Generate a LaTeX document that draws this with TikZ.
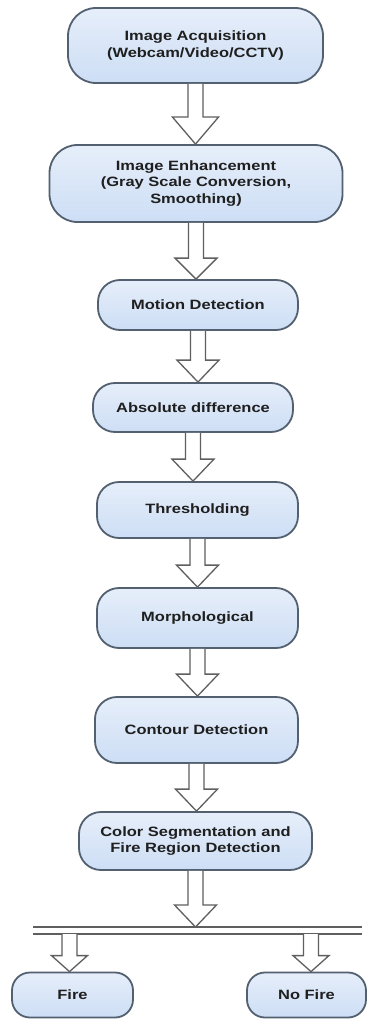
\documentclass[tikz,border=0pt]{standalone}
\usepackage{fontspec}
\setmainfont{Liberation Sans}[FakeStretch=1.22]
\usetikzlibrary{calc}
\definecolor{boxfillA}{RGB}{230,238,250}
\definecolor{boxfillB}{RGB}{205,222,245}
\definecolor{boxline}{RGB}{82,96,112}
\definecolor{arrline}{RGB}{95,95,95}
\tikzset{
  stepbox/.style={draw=boxline, line width=1.8pt, top color=boxfillA, bottom color=boxfillB,
     rounded corners=22pt, align=center, inner sep=2pt,
     font=\fontsize{13.5}{16.7}\selectfont\bfseries, text=black!88},
  hollow/.style={draw=arrline, line width=1.3pt, fill=white, line join=miter},
  barline/.style={draw=arrline, line width=1.3pt}
}
% #1 head half width, #2 head height, #3 start, #4 tip node/coordinate
\newcommand\blockarrow[4]{%
  \draw[hollow] let \p1=(#3), \p2=(#4) in
    (\x1-7.5pt,\y1) -- (\x1-7.5pt,\y2+#2) -- (\x1-#1,\y2+#2) -- (\x1,\y2)
    -- (\x1+#1,\y2+#2) -- (\x1+7.5pt,\y2+#2) -- (\x1+7.5pt,\y1);}
\begin{document}
\begin{tikzpicture}[x=1pt,y=1pt]
\useasboundingbox (0,0) rectangle (367,-1019);
\fill[white] (0,0) rectangle (367,-1019);

\node[stepbox, minimum width=255pt, minimum height=75pt, rounded corners=28pt] (acq) at (195.5,-45.5)
  {Image Acquisition\\(Webcam/Video/CCTV)};
\node[stepbox, minimum width=293pt, minimum height=77pt, rounded corners=28pt] (enh) at (196,-183.5)
  {Image Enhancement\\(Gray Scale Conversion,\\Smoothing)};
\node[stepbox, minimum width=200pt, minimum height=50pt] (mot) at (198,-305) {Motion Detection};
\node[stepbox, minimum width=200pt, minimum height=49pt] (abs) at (193,-407.5) {Absolute difference};
\node[stepbox, minimum width=201pt, minimum height=56pt] (thr) at (197.5,-510) {Thresholding};
\node[stepbox, minimum width=201pt, minimum height=60pt] (mor) at (197.5,-618) {Morphological};
\node[stepbox, minimum width=203pt, minimum height=66pt] (con) at (196.5,-730) {Contour Detection};
\node[stepbox, minimum width=233pt, minimum height=58pt] (col) at (195.5,-841)
  {Color Segmentation and\\Fire Region Detection};
\node[stepbox, minimum width=121pt, minimum height=45pt, rounded corners=18pt] (fire) at (72.5,-995) {Fire};
\node[stepbox, minimum width=119pt, minimum height=45pt, rounded corners=18pt] (nofire) at (306.5,-995) {No Fire};

\coordinate (barTL) at (33,-927);
\coordinate (barTR) at (362,-927);
\coordinate (barBL) at (33,-934);
\coordinate (barBR) at (362,-934);
\coordinate (barmid) at (196.5,-927);
\coordinate (firestart) at (69.5,-934);
\coordinate (nofirestart) at (311,-934);

\draw[barline] (barTL) -- (barTR);
\draw[barline] (barBL) -- (barBR);

\blockarrow{23pt}{27pt}{acq.south}{enh.north}
\blockarrow{21pt}{21pt}{enh.south}{mot.north}
\blockarrow{21pt}{22pt}{mot.south}{abs.north}
\blockarrow{21pt}{22pt}{abs.south}{thr.north}
\blockarrow{21pt}{22pt}{thr.south}{mor.north}
\blockarrow{21pt}{22pt}{mor.south}{con.north}
\blockarrow{21pt}{22pt}{con.south}{col.north}
\blockarrow{21pt}{22pt}{col.south}{barmid}
\blockarrow{18pt}{16pt}{firestart}{fire.north}
\blockarrow{18pt}{16pt}{nofirestart}{nofire.north}
\end{tikzpicture}
\end{document}
